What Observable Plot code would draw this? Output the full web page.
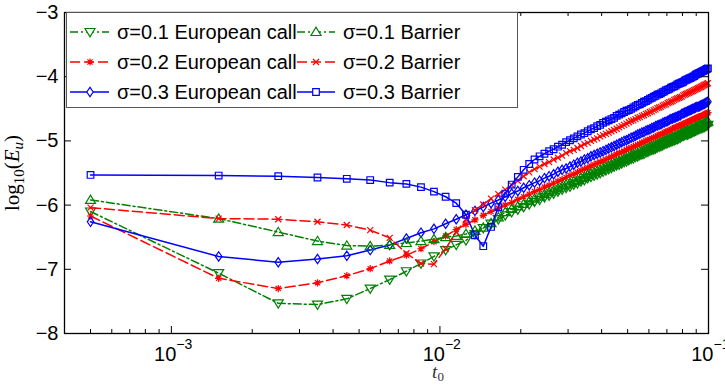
<!DOCTYPE html>
<html><head><meta charset="utf-8">
<script src="https://cdn.jsdelivr.net/npm/d3@7"></script>
<script src="https://cdn.jsdelivr.net/npm/@observablehq/plot@0.6"></script>
<style>body{margin:0;background:#fff}</style>
</head><body><div id="chart"></div>
<script>
// ---- data ----
const t0 = [
0.0005,0.0015,0.0025,0.0035,0.0045,0.0055,0.0065,0.0075,0.0085,0.0095,
0.0105,0.0115,0.0125,0.0135,0.0145,0.0155,0.0165,0.0175,0.0185,0.0195,
0.0205,0.0215,0.0225,0.0235,0.0245,0.0255,0.0265,0.0275,0.0285,0.0295,
0.0305,0.0315,0.0325,0.0335,0.0345,0.0355,0.0365,0.0375,0.0385,0.0395,
0.0405,0.0415,0.0425,0.0435,0.0445,0.0455,0.0465,0.0475,0.0485,0.0495,
0.0505,0.0515,0.0525,0.0535,0.0545,0.0555,0.0565,0.0575,0.0585,0.0595,
0.0605,0.0615,0.0625,0.0635,0.0645,0.0655,0.0665,0.0675,0.0685,0.0695,
0.0705,0.0715,0.0725,0.0735,0.0745,0.0755,0.0765,0.0775,0.0785,0.0795,
0.0805,0.0815,0.0825,0.0835,0.0845,0.0855,0.0865,0.0875,0.0885,0.0895,
0.0905,0.0915,0.0925,0.0935,0.0945,0.0955,0.0965,0.0975,0.0985,0.0995];

const euroS01 = [
-6.10,-7.06,-7.53,-7.55,-7.46,-7.30,-7.16,-7.03,-6.91,-6.80,
-6.70,-6.62,-6.55,-6.45,-6.36,-6.29,-6.22,-6.16,-6.11,-6.07,
-6.03,-5.99,-5.95,-5.92,-5.88,-5.85,-5.82,-5.79,-5.76,-5.73,
-5.71,-5.68,-5.66,-5.63,-5.61,-5.58,-5.56,-5.54,-5.52,-5.50,
-5.48,-5.46,-5.44,-5.42,-5.40,-5.38,-5.37,-5.35,-5.33,-5.32,
-5.30,-5.28,-5.27,-5.25,-5.24,-5.22,-5.21,-5.20,-5.18,-5.17,
-5.15,-5.14,-5.13,-5.12,-5.10,-5.09,-5.08,-5.07,-5.05,-5.04,
-5.03,-5.02,-5.01,-5.00,-4.99,-4.98,-4.97,-4.96,-4.95,-4.93,
-4.92,-4.91,-4.90,-4.90,-4.89,-4.88,-4.87,-4.86,-4.85,-4.84,
-4.83,-4.82,-4.81,-4.80,-4.80,-4.79,-4.78,-4.77,-4.76,-4.75];

const barrierS01 = [
-5.92,-6.21,-6.42,-6.56,-6.63,-6.64,-6.62,-6.59,-6.56,-6.53,
-6.50,-6.48,-6.45,-6.40,-6.35,-6.28,-6.19,-6.11,-6.06,-6.02,
-5.98,-5.94,-5.90,-5.87,-5.83,-5.80,-5.77,-5.74,-5.71,-5.68,
-5.66,-5.63,-5.61,-5.58,-5.56,-5.53,-5.51,-5.49,-5.47,-5.45,
-5.43,-5.41,-5.39,-5.37,-5.35,-5.33,-5.32,-5.30,-5.28,-5.27,
-5.25,-5.23,-5.22,-5.20,-5.19,-5.17,-5.16,-5.15,-5.13,-5.12,
-5.10,-5.09,-5.08,-5.07,-5.05,-5.04,-5.03,-5.02,-5.00,-4.99,
-4.98,-4.97,-4.96,-4.95,-4.94,-4.93,-4.92,-4.91,-4.90,-4.88,
-4.87,-4.86,-4.85,-4.85,-4.84,-4.83,-4.82,-4.81,-4.80,-4.79,
-4.78,-4.77,-4.76,-4.75,-4.75,-4.74,-4.73,-4.72,-4.71,-4.70];

const euroS02 = [
-6.17,-7.14,-7.30,-7.21,-7.10,-6.99,-6.87,-6.78,-6.68,-6.57,
-6.48,-6.38,-6.30,-6.23,-6.16,-6.10,-6.05,-6.00,-5.96,-5.91,
-5.87,-5.83,-5.79,-5.76,-5.72,-5.69,-5.66,-5.63,-5.60,-5.57,
-5.54,-5.52,-5.49,-5.46,-5.44,-5.42,-5.39,-5.37,-5.35,-5.33,
-5.31,-5.29,-5.27,-5.25,-5.23,-5.21,-5.19,-5.18,-5.16,-5.14,
-5.12,-5.11,-5.09,-5.08,-5.06,-5.05,-5.03,-5.02,-5.00,-4.99,
-4.98,-4.96,-4.95,-4.94,-4.92,-4.91,-4.90,-4.89,-4.87,-4.86,
-4.85,-4.84,-4.83,-4.81,-4.80,-4.79,-4.78,-4.77,-4.76,-4.75,
-4.74,-4.73,-4.72,-4.71,-4.70,-4.69,-4.68,-4.67,-4.66,-4.65,
-4.64,-4.63,-4.62,-4.62,-4.61,-4.60,-4.59,-4.58,-4.57,-4.56];

const barrierS02 = [
-6.04,-6.21,-6.22,-6.26,-6.31,-6.39,-6.51,-6.75,-6.91,-6.92,
-6.68,-6.42,-6.22,-6.08,-5.99,-5.90,-5.83,-5.76,-5.69,-5.62,
-5.55,-5.49,-5.44,-5.40,-5.36,-5.33,-5.29,-5.26,-5.23,-5.19,
-5.16,-5.14,-5.11,-5.08,-5.05,-5.03,-5.00,-4.98,-4.96,-4.93,
-4.91,-4.89,-4.87,-4.85,-4.83,-4.81,-4.79,-4.77,-4.75,-4.73,
-4.71,-4.69,-4.68,-4.66,-4.64,-4.63,-4.61,-4.60,-4.58,-4.57,
-4.55,-4.54,-4.52,-4.51,-4.49,-4.48,-4.47,-4.45,-4.44,-4.43,
-4.41,-4.40,-4.39,-4.38,-4.36,-4.35,-4.34,-4.33,-4.32,-4.31,
-4.29,-4.28,-4.27,-4.26,-4.25,-4.24,-4.23,-4.22,-4.21,-4.20,
-4.19,-4.18,-4.17,-4.16,-4.15,-4.14,-4.13,-4.12,-4.11,-4.10];

const euroS03 = [
-6.26,-6.80,-6.89,-6.84,-6.79,-6.70,-6.62,-6.52,-6.43,-6.37,
-6.29,-6.22,-6.15,-6.09,-6.03,-5.97,-5.92,-5.87,-5.82,-5.78,
-5.73,-5.69,-5.65,-5.62,-5.58,-5.55,-5.52,-5.48,-5.45,-5.43,
-5.40,-5.37,-5.34,-5.32,-5.29,-5.27,-5.24,-5.22,-5.20,-5.18,
-5.16,-5.14,-5.12,-5.10,-5.08,-5.06,-5.04,-5.02,-5.00,-4.99,
-4.97,-4.95,-4.94,-4.92,-4.90,-4.89,-4.87,-4.86,-4.84,-4.83,
-4.82,-4.80,-4.79,-4.77,-4.76,-4.75,-4.74,-4.72,-4.71,-4.70,
-4.69,-4.67,-4.66,-4.65,-4.64,-4.63,-4.62,-4.61,-4.60,-4.58,
-4.57,-4.56,-4.55,-4.54,-4.53,-4.52,-4.51,-4.50,-4.49,-4.48,
-4.47,-4.47,-4.46,-4.45,-4.44,-4.43,-4.42,-4.41,-4.40,-4.39];

const barrierS03 = [
-5.53,-5.54,-5.55,-5.57,-5.59,-5.61,-5.65,-5.67,-5.72,-5.79,
-5.87,-5.97,-6.15,-6.47,-6.64,-6.34,-6.03,-5.82,-5.68,-5.56,
-5.45,-5.36,-5.29,-5.24,-5.20,-5.16,-5.13,-5.09,-5.06,-5.02,
-4.99,-4.96,-4.93,-4.90,-4.88,-4.85,-4.82,-4.80,-4.77,-4.75,
-4.72,-4.70,-4.68,-4.66,-4.64,-4.61,-4.59,-4.57,-4.55,-4.53,
-4.52,-4.50,-4.48,-4.46,-4.44,-4.43,-4.41,-4.39,-4.38,-4.36,
-4.34,-4.33,-4.31,-4.30,-4.28,-4.27,-4.26,-4.24,-4.23,-4.21,
-4.20,-4.19,-4.17,-4.16,-4.15,-4.14,-4.12,-4.11,-4.10,-4.09,
-4.08,-4.06,-4.05,-4.04,-4.03,-4.02,-4.01,-4.00,-3.99,-3.97,
-3.96,-3.95,-3.94,-3.93,-3.92,-3.91,-3.90,-3.89,-3.88,-3.87];

const seriesNames = ["σ=0.1 European call","σ=0.2 European call","σ=0.3 European call",
                     "σ=0.1 Barrier","σ=0.2 Barrier","σ=0.3 Barrier"];
const seriesValues = [euroS01, euroS02, euroS03, barrierS01, barrierS02, barrierS03];
const yTicks = [-8,-7,-6,-5,-4,-3];
const yTickLabels = ["−8","−7","−6","−5","−4","−3"];
const xMajorTicks = [1e-3, 1e-2, 1e-1];
const xTickBase = ["10","10","10"];
const xTickExponents = ["−3","−2","−1"];
const xMinorTicks = [4e-4,5e-4,6e-4,7e-4,8e-4,9e-4,2e-3,3e-3,4e-3,5e-3,6e-3,7e-3,8e-3,9e-3,2e-2,3e-2,4e-2,5e-2,6e-2,7e-2,8e-2,9e-2];

// ---- symbols (MATLAB-like, unfilled) ----
const sym = fn => ({draw(c, size){ const r = Math.sqrt(size/Math.PI); fn(c, r); }});
const triDown = sym((c,r)=>{c.moveTo(-r,-0.7*r);c.lineTo(r,-0.7*r);c.lineTo(0,0.95*r);c.closePath();});
const triUp = sym((c,r)=>{c.moveTo(-r,0.7*r);c.lineTo(r,0.7*r);c.lineTo(0,-0.95*r);c.closePath();});
const diamond = sym((c,r)=>{c.moveTo(0,-1.3*r);c.lineTo(0.9*r,0);c.lineTo(0,1.3*r);c.lineTo(-0.9*r,0);c.closePath();});
const square = sym((c,r)=>{c.rect(-r,-r,2*r,2*r);});
const cross = sym((c,r)=>{c.moveTo(-r,-r);c.lineTo(r,r);c.moveTo(-r,r);c.lineTo(r,-r);});
const star = sym((c,r)=>{c.moveTo(-r,0);c.lineTo(r,0);c.moveTo(0,-r);c.lineTo(0,r);const a=0.72*r;c.moveTo(-a,-a);c.lineTo(a,a);c.moveTo(-a,a);c.lineTo(a,-a);});

const styles = [
  {color:"#008000", dash:"8,3,2,3", symbol:triDown, r:5},
  {color:"#ff0000", dash:"10,4", symbol:star, r:3.6},
  {color:"#0000ff", dash:null, symbol:diamond, r:3.6},
  {color:"#008000", dash:"8,3,2,3", symbol:triUp, r:5},
  {color:"#ff0000", dash:"10,4", symbol:cross, r:3},
  {color:"#0000ff", dash:null, symbol:square, r:3.3}
];

const tables = seriesValues.map((vals, s) => t0.map((x, i) => ({x, y: vals[i], series: seriesNames[s]})));

const dataMarks = [];
for (let s = 0; s < 6; s++) {
  const st = styles[s];
  dataMarks.push(Plot.line(tables[s], {x:"x", y:"y", stroke: st.color, strokeWidth: 1.5, strokeDasharray: st.dash ?? undefined}));
  dataMarks.push(Plot.dot(tables[s], {x:"x", y:"y", stroke: st.color, fill: "none", strokeWidth: 1.2, symbol: st.symbol, r: st.r}));
}

const W = 725, H = 385, mL = 64, mR = 17, mT = 12, mB = 52;
const plotH = H - mT - mB, plotW = W - mL - mR;

const chart = Plot.plot({
  width: W, height: H,
  marginLeft: mL, marginRight: mR, marginTop: mT, marginBottom: mB,
  style: {fontFamily: "'Liberation Sans', Arial, sans-serif", fontSize: "20px", background: "white", color: "black", overflow: "visible"},
  x: {type: "log", domain: [4e-4, 0.1], axis: null},
  y: {domain: [-8, -3]},
  marks: [
    ...dataMarks,
    Plot.ruleX(xMajorTicks, {x: d => d, insetTop: plotH - 7, stroke: "black", strokeWidth: 1}),
    Plot.ruleX(xMajorTicks, {x: d => d, insetBottom: plotH - 7, stroke: "black", strokeWidth: 1}),
    Plot.ruleX(xMinorTicks, {x: d => d, insetTop: plotH - 4, stroke: "black", strokeWidth: 1}),
    Plot.ruleX(xMinorTicks, {x: d => d, insetBottom: plotH - 4, stroke: "black", strokeWidth: 1}),
    Plot.ruleY(yTicks, {y: d => d, insetRight: plotW - 7, stroke: "black", strokeWidth: 1}),
    Plot.ruleY(yTicks, {y: d => d, insetLeft: plotW - 7, stroke: "black", strokeWidth: 1}),
    Plot.axisY({ticks: yTicks, tickSize: 0, tickPadding: 6, label: null, fontSize: 20, tickFormat: d => yTickLabels[yTicks.indexOf(d)]}),
    Plot.text(xMajorTicks, {x: d => d, text: (d, i) => xTickBase[i], frameAnchor: "bottom", lineAnchor: "bottom", textAnchor: "end", dx: 5, dy: 27, fontSize: 20}),
    Plot.text(xMajorTicks, {x: d => d, text: (d, i) => xTickExponents[i], frameAnchor: "bottom", lineAnchor: "bottom", textAnchor: "start", dx: 5, dy: 15, fontSize: 14}),
    Plot.frame({stroke: "black", strokeWidth: 1.3})
  ]
});
document.getElementById("chart").appendChild(chart);

// ---- legend (inside the axes, two columns) ----
const svg = d3.select(chart);
const lg = svg.append("g").attr("font-family", "'Liberation Sans', Arial, sans-serif").attr("font-size", 20).attr("text-anchor", "start");
lg.append("rect").attr("x", 66.5).attr("y", 12.5).attr("width", 451).attr("height", 95)
  .attr("fill", "white").attr("stroke", "#555").attr("stroke-width", 1);
const rowsY = [32, 62, 92];
const cols = [{x0: 70, x1: 109, mx: 90, tx: 117}, {x0: 297, x1: 335, mx: 316, tx: 343}];
const legendOrder = [[0,1,2],[3,4,5]];
legendOrder.forEach((list, ci) => {
  const c = cols[ci];
  list.forEach((s, ri) => {
    lg.append("text").attr("x", c.tx).attr("y", rowsY[ri] + 7).attr("text-anchor", "start").attr("fill", "black").text(seriesNames[s]);
  });
});
legendOrder.forEach((list, ci) => {
  const c = cols[ci];
  list.forEach((s, ri) => {
    const st = styles[s], y = rowsY[ri];
    const ln = lg.append("line").attr("x1", c.x0).attr("x2", c.x1).attr("y1", y).attr("y2", y)
      .attr("stroke", st.color).attr("stroke-width", 1.5);
    if (st.dash) ln.attr("stroke-dasharray", st.dash);
    lg.append("path").attr("d", d3.symbol(st.symbol, Math.PI * st.r * st.r)())
      .attr("transform", `translate(${c.mx},${y})`).attr("fill", "white").attr("stroke", st.color).attr("stroke-width", 1.2);
  });
});

// ---- axis titles ----
const yl = svg.append("text").attr("transform", "translate(19,173) rotate(-90)")
  .attr("text-anchor", "middle").attr("font-family", "'Liberation Serif', 'Times New Roman', serif").attr("font-size", 21).attr("fill", "black");
yl.append("tspan").text("log");
yl.append("tspan").attr("font-size", 15).attr("dy", 5).text("10");
yl.append("tspan").attr("dy", -5).text("(");
yl.append("tspan").attr("font-style", "italic").text("E");
yl.append("tspan").attr("font-style", "italic").attr("font-size", 15).attr("dy", 4).text("u");
yl.append("tspan").attr("dy", -4).text(")");

const xl = svg.append("text").attr("x", 438).attr("y", 378).attr("text-anchor", "middle")
  .attr("font-family", "'Liberation Serif', 'Times New Roman', serif").attr("font-size", 19).attr("fill", "#333");
xl.append("tspan").attr("font-style", "italic").text("t");
xl.append("tspan").attr("font-size", 13).attr("dy", 3).text("0");
</script>
</body></html>
